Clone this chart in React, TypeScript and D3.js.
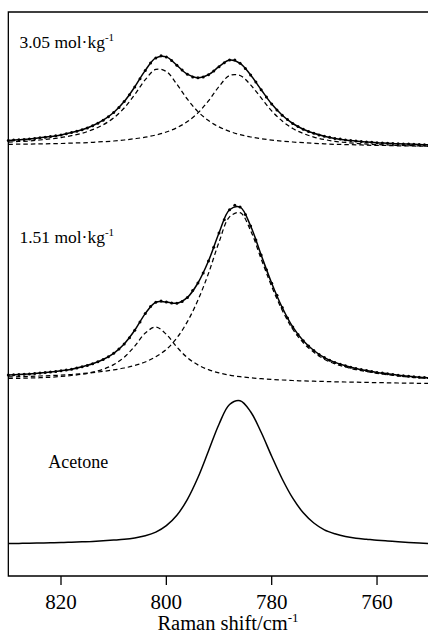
import React from "react";
import * as d3 from "d3";

// ---------- data ----------
// wavenumber grids (cm-1), reversed axis
const grid2: number[] = d3.range(830, 749, -2); // 41 samples for lines
const grid1: number[] = d3.range(830, 749, -1); // 81 samples for measured points

const xTicks = [820, 800, 780, 760];
const xDomain: [number, number] = [830, 750];
const yDomain: [number, number] = [0, 564]; // stacked intensity, arbitrary units

// Acetone (solid line)
const acetone = [32.5, 32.6, 32.7, 33.0, 33.2, 33.4, 33.8, 34.2, 34.6, 35.2, 35.9, 36.7, 38.1, 40.3, 43.9, 50.3, 60.7, 76.7, 98.5, 125.0, 151.8, 171.5, 175.3, 164.3, 143.7, 119.7, 97.0, 77.8, 63.2, 53.0, 46.2, 42.2, 39.4, 37.8, 36.8, 35.8, 35.0, 34.2, 33.5, 32.9, 32.4];

// 1.51 mol/kg
const m151Measured = [200.9, 201.2, 201.5, 201.8, 202.1, 202.5, 202.9, 203.4, 203.9, 204.5, 205.2, 205.9, 206.8, 207.9, 209.2, 210.6, 212.2, 214.2, 216.5, 219.3, 222.7, 226.9, 232.1, 238.3, 245.7, 253.9, 262.4, 269.4, 273.8, 275.0, 273.9, 272.9, 272.8, 274.5, 278.6, 285.5, 293.0, 303.0, 315.0, 328.8, 343.0, 356.2, 366.2, 370.8, 368.9, 361.6, 350.0, 335.9, 321.0, 306.3, 292.8, 280.7, 268.5, 258.1, 249.1, 241.5, 235.2, 229.9, 225.5, 221.6, 218.4, 215.7, 213.6, 211.8, 210.2, 208.8, 207.6, 206.4, 205.4, 204.5, 203.6, 202.9, 202.2, 201.5, 200.8, 200.2, 199.7, 199.3, 198.8, 198.5, 198.1];
const m151Fit = [200.9, 201.5, 202.1, 202.9, 203.9, 205.2, 206.8, 209.2, 212.2, 216.5, 222.7, 232.1, 245.7, 262.4, 273.8, 273.9, 272.8, 278.6, 293.0, 315.0, 343.0, 366.2, 368.9, 350.0, 321.0, 292.8, 268.5, 249.1, 235.2, 225.5, 218.4, 213.6, 210.2, 207.6, 205.4, 203.6, 202.2, 200.8, 199.7, 198.8, 198.1];
const m151Band1 = [197.5, 197.7, 198.0, 198.3, 198.8, 199.5, 200.5, 201.8, 203.8, 206.8, 211.4, 218.8, 229.8, 242.9, 248.9, 241.6, 228.9, 218.3, 211.1, 206.3, 203.1, 200.9, 199.3, 198.2, 197.3, 196.6, 196.0, 195.5, 195.1, 194.8, 194.5, 194.2, 194.0, 193.8, 193.6, 193.4, 193.2, 193.0, 192.9, 192.7, 192.6];
const m151Band2 = [199.1, 199.3, 199.6, 200.0, 200.4, 200.9, 201.5, 202.4, 203.4, 204.6, 206.1, 208.0, 210.5, 214.0, 219.3, 226.6, 238.1, 254.4, 275.9, 302.6, 333.8, 359.1, 363.3, 345.4, 317.2, 289.6, 265.8, 246.8, 233.2, 223.7, 216.8, 212.2, 209.0, 206.4, 204.4, 202.7, 201.3, 200.1, 199.0, 198.2, 197.5];

// 3.05 mol/kg
const m305Measured = [435.5, 435.9, 436.3, 436.6, 437.1, 437.6, 438.2, 438.8, 439.5, 440.3, 441.1, 442.2, 443.4, 444.7, 446.3, 448.1, 450.3, 452.8, 455.8, 459.3, 463.5, 468.5, 474.4, 481.3, 489.1, 497.3, 505.6, 512.9, 518.1, 520.2, 519.1, 515.6, 510.7, 505.9, 501.8, 499.1, 498.2, 498.9, 501.3, 504.9, 509.3, 513.3, 515.9, 515.9, 512.7, 507.5, 501.0, 493.9, 486.3, 479.0, 471.9, 466.0, 460.8, 456.4, 452.5, 449.4, 446.8, 444.5, 442.7, 441.1, 439.8, 438.7, 437.6, 436.9, 436.1, 435.5, 435.0, 434.5, 434.0, 433.7, 433.3, 433.1, 432.8, 432.5, 432.2, 432.1, 431.9, 431.7, 431.5, 431.3, 431.2];
const m305Fit = [435.5, 436.3, 437.1, 438.2, 439.5, 441.1, 443.4, 446.3, 450.3, 455.8, 463.5, 474.4, 489.1, 505.6, 518.1, 519.1, 510.7, 501.8, 498.2, 501.3, 509.3, 515.9, 512.7, 501.0, 486.3, 471.9, 460.8, 452.5, 446.8, 442.7, 439.8, 437.6, 436.1, 435.0, 434.0, 433.3, 432.8, 432.2, 431.9, 431.5, 431.2];
const m305Band1 = [433.9, 434.5, 435.1, 436.0, 437.1, 438.4, 440.3, 442.8, 446.3, 451.2, 458.1, 468.0, 481.4, 496.3, 506.6, 504.5, 491.8, 476.8, 464.4, 455.4, 449.1, 444.6, 441.4, 439.0, 437.3, 435.9, 434.8, 434.0, 433.3, 432.7, 432.2, 431.7, 431.4, 431.2, 430.8, 430.6, 430.5, 430.2, 430.1, 429.9, 429.8];
const m305Band2 = [431.6, 431.8, 431.9, 432.1, 432.3, 432.5, 432.9, 433.2, 433.7, 434.3, 435.0, 436.0, 437.3, 438.8, 441.0, 444.0, 448.3, 454.4, 463.1, 475.2, 489.5, 500.5, 500.5, 491.1, 478.1, 465.1, 455.0, 447.5, 442.5, 438.9, 436.5, 434.7, 433.5, 432.6, 431.9, 431.4, 431.0, 430.6, 430.4, 430.1, 429.9];

const labels = [
  { main: "3.05 mol\u00B7kg", sup: "-1", v: 827.9, level: 527.7 },
  { main: "1.51 mol\u00B7kg", sup: "-1", v: 827.9, level: 332.7 },
];
const acetoneLabel = { text: "Acetone", v: 822.4, level: 107.7 };

const FONT = "'Liberation Serif', 'Times New Roman', Times, serif";

export default function App() {
  const x = d3.scaleLinear().domain(xDomain).range([8.33, 429.7]);
  const y = d3.scaleLinear().domain(yDomain).range([576, 12]);

  const mkLine = (grid: number[]) =>
    d3
      .line<number>()
      .x((_, i) => x(grid[i]))
      .y((d) => y(d))
      .curve(d3.curveCatmullRom.alpha(0.5));

  const line2 = mkLine(grid2);

  const [x0, x1] = x.range();
  const [yb, yt] = y.range();

  const dashed = { fill: "none", stroke: "#000", strokeWidth: 1.25, strokeDasharray: "4.5,3" };
  const solid = { fill: "none", stroke: "#000", strokeWidth: 1.5 };
  const txt = { fontFamily: FONT, fill: "#000" };

  return (
    <svg
      width={428}
      height={636}
      style={{ position: "absolute", left: 0, top: 0, background: "#fff", fontFamily: FONT }}
    >
      <rect x={0} y={0} width={428} height={636} fill="#fff" />
      {/* frame */}
      <path
        d={`M${x1},${yt}H${x0}V${yb}H${x1}V${yt}`}
        fill="none"
        stroke="#000"
        strokeWidth={1.3}
      />
      {/* ticks */}
      {xTicks.map((t) => (
        <g key={t}>
          <line x1={x(t)} x2={x(t)} y1={yb} y2={yb + 9} stroke="#000" strokeWidth={1.3} />
          <text x={x(t)} y={609} textAnchor="middle" fontSize={21} style={txt}>
            {t}
          </text>
        </g>
      ))}
      <text x={228} y={630} textAnchor="middle" fontSize={20.5} style={txt}>
        Raman shift/cm
        <tspan fontSize={13} dy={-8}>
          -1
        </tspan>
      </text>

      {/* component bands (dashed) */}
      {[m151Band1, m151Band2, m305Band1, m305Band2].map((arr, i) => (
        <path key={"b" + i} d={line2(arr) || ""} {...dashed} />
      ))}

      {/* fits and acetone (solid) */}
      {[acetone, m151Fit, m305Fit].map((arr, i) => (
        <path key={"s" + i} d={line2(arr) || ""} {...solid} />
      ))}

      {/* measured points */}
      {[m151Measured, m305Measured].map((arr, k) =>
        arr.map((d, i) => (
          <circle key={`m${k}-${i}`} cx={x(grid1[i])} cy={y(d)} r={1.5} fill="#000" />
        ))
      )}

      {/* labels */}
      {labels.map((l) => (
        <text key={l.main} x={x(l.v)} y={y(l.level)} fontSize={17.5} style={txt}>
          {l.main}
          <tspan fontSize={11} dy={-7}>
            {l.sup}
          </tspan>
        </text>
      ))}
      <text x={x(acetoneLabel.v)} y={y(acetoneLabel.level)} fontSize={18} style={txt}>
        {acetoneLabel.text}
      </text>
    </svg>
  );
}
